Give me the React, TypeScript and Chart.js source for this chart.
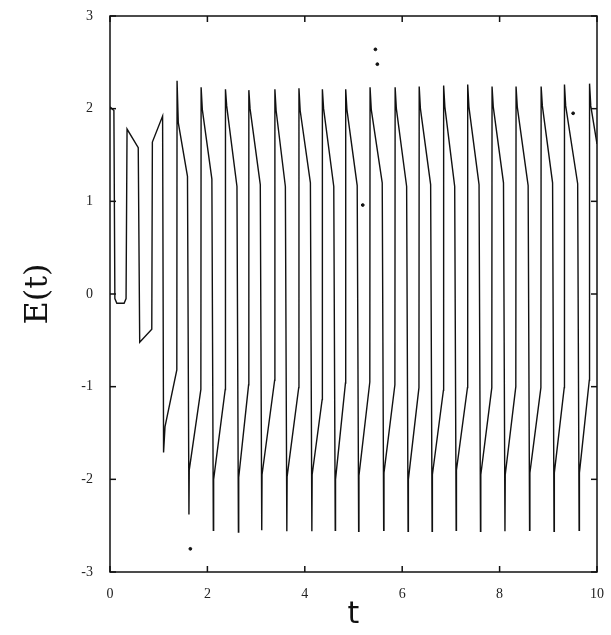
import React, { useEffect, useRef } from "react";
import { Chart, registerables } from "chart.js";

Chart.register(...registerables);

// Axis ticks
const xTickValues = [0, 2, 4, 6, 8, 10];
const yTickValues = [-3, -2, -1, 0, 1, 2, 3];

// Initial transient (t, E)
const startT = [0.0, 0.08, 0.1, 0.14, 0.29, 0.33, 0.35, 0.58, 0.61, 0.858, 0.87, 1.08, 1.1, 1.13];
const startE = [2.02, 1.98, -0.05, -0.1, -0.1, -0.05, 1.78, 1.58, -0.52, -0.38, 1.64, 1.92, -1.71, -1.43];

// Upward jumps of the relaxation cycles
const jumpT = [1.372, 1.866, 2.366, 2.846, 3.381, 3.875, 4.356, 4.835, 5.335, 5.85, 6.344, 6.846, 7.34, 7.84, 8.333, 8.848, 9.327, 9.842];
const jumpBaseE = [-0.82, -1.03, -1.03, -0.98, -0.93, -1.01, -1.14, -0.96, -0.95, -0.98, -1.01, -1.04, -1.01, -1.01, -1.0, -1.01, -1.01, -0.93];
const peakE = [2.3, 2.23, 2.21, 2.2, 2.21, 2.22, 2.21, 2.21, 2.23, 2.23, 2.24, 2.25, 2.26, 2.24, 2.24, 2.24, 2.26, 2.27];
const shoulderE = [1.85, 1.99, 2.03, 2.0, 1.98, 1.98, 2.0, 1.99, 1.99, 2.0, 2.0, 2.02, 2.02, 2.02, 2.02, 2.03, 2.03, 2.03];

// Downward drops of the relaxation cycles
const dropT = [1.591, 2.092, 2.607, 3.086, 3.601, 4.115, 4.595, 5.076, 5.59, 6.091, 6.584, 7.078, 7.578, 8.08, 8.586, 9.088, 9.603];
const dropTopE = [1.27, 1.24, 1.16, 1.18, 1.16, 1.2, 1.16, 1.17, 1.2, 1.16, 1.18, 1.16, 1.18, 1.2, 1.17, 1.2, 1.19];
const bottomE = [-2.38, -2.55, -2.57, -2.55, -2.56, -2.56, -2.55, -2.56, -2.55, -2.56, -2.56, -2.55, -2.56, -2.56, -2.55, -2.56, -2.55];
const reboundE = [-1.9, -2.0, -1.98, -1.95, -1.97, -1.95, -2.0, -1.96, -1.93, -2.0, -1.95, -1.9, -1.95, -1.95, -1.93, -1.93, -1.93];

// Last sample at the right edge
const endT = 10;
const endE = 1.62;

// Small isolated specks visible in the picture
const speckT = [5.45, 5.49, 1.65, 5.19, 9.51];
const speckE = [2.64, 2.48, -2.75, 0.96, 1.95];

// Shape offsets (t units)
const PEAK_DT = 0.005;
const SHOULDER_DT = 0.03;
const BOTTOM_DT = 0.03;
const REBOUND_DT = 0.036;

function buildTrace() {
  const pts: { x: number; y: number }[] = startT.map((t, i) => ({ x: t, y: startE[i] }));
  for (let k = 0; k < jumpT.length; k++) {
    pts.push({ x: jumpT[k], y: jumpBaseE[k] });
    pts.push({ x: jumpT[k] + PEAK_DT, y: peakE[k] });
    pts.push({ x: jumpT[k] + SHOULDER_DT, y: shoulderE[k] });
    if (k < dropT.length) {
      pts.push({ x: dropT[k], y: dropTopE[k] });
      pts.push({ x: dropT[k] + BOTTOM_DT, y: bottomE[k] });
      pts.push({ x: dropT[k] + REBOUND_DT, y: reboundE[k] });
    }
  }
  pts.push({ x: endT, y: endE });
  return pts;
}

const frameTicks = {
  id: "frameTicks",
  afterDraw(chart: any) {
    const { ctx, chartArea: a, scales } = chart;
    ctx.save();
    ctx.strokeStyle = "#111";
    ctx.lineWidth = 1.5;
    ctx.strokeRect(a.left, a.top, a.right - a.left, a.bottom - a.top);
    const L = 6;
    const seg = (x1: number, y1: number, x2: number, y2: number) => {
      ctx.beginPath();
      ctx.moveTo(x1, y1);
      ctx.lineTo(x2, y2);
      ctx.stroke();
    };
    for (const v of xTickValues) {
      const px = scales.x.getPixelForValue(v);
      seg(px, a.bottom, px, a.bottom - L);
      seg(px, a.top, px, a.top + L);
    }
    for (const v of yTickValues) {
      const py = scales.y.getPixelForValue(v);
      seg(a.left, py, a.left + L, py);
      seg(a.right, py, a.right - L, py);
    }
    ctx.restore();
  },
};

export default function App() {
  const ref = useRef<HTMLCanvasElement>(null);
  useEffect(() => {
    if (!ref.current) return;
    const chart = new Chart(ref.current, {
      type: "line",
      data: {
        datasets: [
          {
            data: buildTrace(),
            borderColor: "#111",
            borderWidth: 1.4,
            pointRadius: 0,
            tension: 0,
            fill: false,
          },
          {
            type: "scatter",
            data: speckT.map((t, i) => ({ x: t, y: speckE[i] })),
            backgroundColor: "#111",
            borderColor: "#111",
            pointRadius: 1.4,
            showLine: false,
          } as any,
        ],
      },
      options: {
        animation: false,
        responsive: false,
        events: [],
        layout: { padding: { left: 0, right: 14, top: 16, bottom: 0 } },
        plugins: { legend: { display: false }, tooltip: { enabled: false } },
        scales: {
          x: {
            type: "linear",
            min: 0,
            max: 10,
            afterBuildTicks: (s: any) => {
              s.ticks = xTickValues.map((v) => ({ value: v }));
            },
            afterFit: (s: any) => {
              s.height = 63;
              s.paddingLeft = 0;
              s.paddingRight = 0;
            },
            grid: { display: false, drawTicks: false },
            border: { display: false },
            ticks: {
              padding: 14,
              color: "#222",
              font: { family: "Liberation Serif", size: 14 },
              maxRotation: 0,
            },
            title: {
              display: true,
              text: "t",
              color: "#111",
              font: { family: "DejaVu Sans", size: 30 },
              padding: { top: 0, bottom: 2 },
            },
          },
          y: {
            type: "linear",
            min: -3,
            max: 3,
            afterBuildTicks: (s: any) => {
              s.ticks = yTickValues.map((v) => ({ value: v }));
            },
            afterFit: (s: any) => {
              s.width = 110;
              s.paddingTop = 0;
              s.paddingBottom = 0;
            },
            grid: { display: false, drawTicks: false },
            border: { display: false },
            ticks: {
              padding: 17,
              color: "#222",
              font: { family: "Liberation Serif", size: 14 },
            },
            title: {
              display: true,
              text: "E(t)",
              color: "#111",
              font: { family: "DejaVu Serif", size: 32 },
              padding: { top: 19, bottom: 0 },
            },
          },
        },
      },
      plugins: [frameTicks],
    });
    return () => chart.destroy();
  }, []);
  return (
    <div style={{ position: "fixed", left: 0, top: 0, width: 611, height: 635, background: "#fff" }}>
      <canvas ref={ref} width={611} height={635} style={{ display: "block" }} />
    </div>
  );
}
